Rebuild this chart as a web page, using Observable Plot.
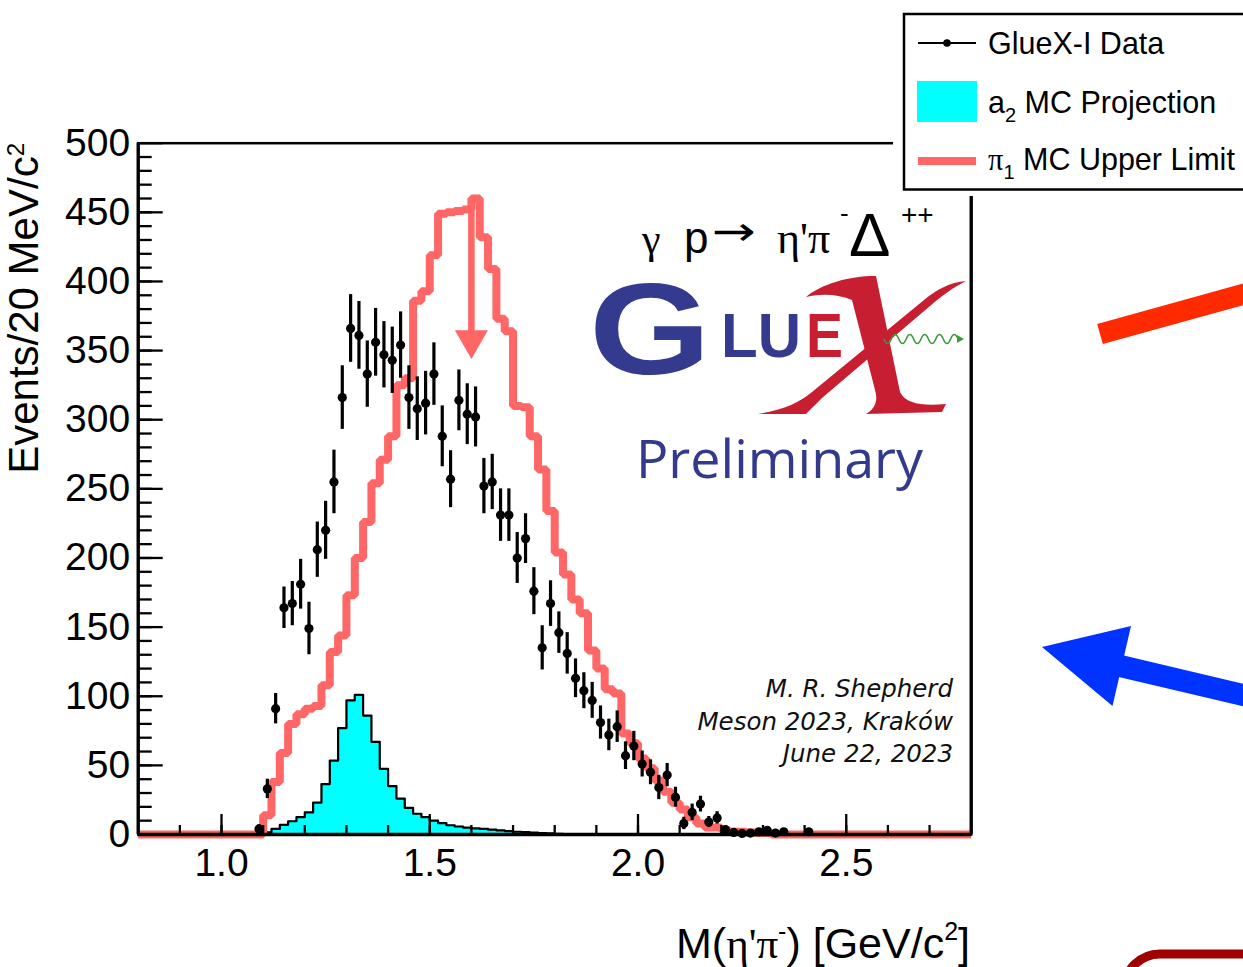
<!DOCTYPE html>
<html>
<head>
<meta charset="utf-8">
<script src="https://cdn.jsdelivr.net/npm/d3@7"></script>
<script src="https://cdn.jsdelivr.net/npm/@observablehq/plot@0.6"></script>
<style>
  html, body { margin: 0; padding: 0; background: #fff; }
  #chart { width: 1243px; height: 967px; overflow: hidden; }
</style>
</head>
<body>
<div id="chart"></div>
<script>
// M(η'π⁻) spectrum in 20 MeV/c² bins
const massRange = [0.8, 2.8];
const countRange = [0, 500];
const binWidth = 0.02;

// π1 MC upper limit histogram (counts per bin, first bin starts at pi1FirstEdge)
const pi1FirstEdge = 1.10;
const pi1Counts = [14, 38, 59, 80, 87, 91, 93, 108, 132, 144,
  173, 200, 226, 254, 271, 288, 325, 330, 386, 393,
  419, 449, 450, 451, 452, 460, 432, 409, 373, 364,
  310, 309, 288, 264, 234, 204, 188, 170, 160, 133,
  120, 105, 102, 73, 66, 55, 48, 39, 31, 23,
  18, 12.5, 8, 5, 5, 3, 2, 2, 1.5, 1, 1];

// a2 MC projection histogram
const a2FirstEdge = 1.10;
const a2Counts = [1.5, 4, 7, 9.6, 12.5, 16, 23, 36.5, 53.5, 77,
  97, 101, 86, 67, 47.5, 35, 26, 19.3, 15, 12.5,
  10, 8.2, 6.7, 5.8, 5, 4.4, 4, 3.5, 3, 2.5,
  2, 1.7, 1.4, 1.1, 0.8, 0.5];

// GlueX-I data points (bin centres, counts, uncertainties)
const dataMass = [1.09, 1.11, 1.13, 1.15, 1.17, 1.19, 1.21, 1.23, 1.25, 1.27,
  1.29, 1.31, 1.33, 1.35, 1.37, 1.39, 1.41, 1.43, 1.45, 1.47,
  1.49, 1.51, 1.53, 1.55, 1.57, 1.59, 1.61, 1.63, 1.65, 1.67,
  1.69, 1.71, 1.73, 1.75, 1.77, 1.79, 1.81, 1.83, 1.85, 1.87,
  1.89, 1.91, 1.93, 1.95, 1.97, 1.99, 2.01, 2.03, 2.05, 2.07,
  2.09, 2.11, 2.13, 2.15, 2.17, 2.19, 2.21, 2.23, 2.25, 2.27,
  2.29, 2.31, 2.33, 2.35, 2.41];
const dataCounts = [4, 33, 91, 164, 167, 181, 149, 206, 220, 255,
  316, 366, 361, 333, 356, 347, 343, 354, 316, 308,
  312, 333, 288, 257, 314, 304, 302, 252, 255, 231,
  231, 200, 214, 176, 135, 167, 146, 131, 113, 104,
  97, 81, 72, 78, 57, 64, 51, 45, 34, 43,
  27, 8, 16, 22, 9, 12, 3.5, 1.5, 0.8, 1,
  2, 3, 1, 2, 2];
const dataErrors = [3, 7, 11, 15, 16, 18, 19, 20, 21, 23,
  23, 24.5, 24.5, 24, 24.5, 24, 24, 24, 23, 23,
  23, 22.6, 22, 20.6, 22, 22, 21.7, 20, 20, 19,
  19, 18.4, 18, 17, 16, 16.5, 15, 15, 14, 13,
  13, 12, 11.4, 11.4, 10, 10.6, 9.4, 9, 8.8, 8.4,
  7.2, 4.5, 6, 5.7, 4, 4.5, 2.5, 1.2, 1, 1,
  1.5, 2, 1, 1.5, 1.5];

// Upper-limit arrow on the π1 peak
const upperLimitArrow = {mass: 1.60, from: 455, to: 344};

// Axis ticks
const yTickLabels = [0, 50, 100, 150, 200, 250, 300, 350, 400, 450, 500];
const xTickLabels = [1.0, 1.5, 2.0, 2.5];
const yMinorTicks = d3.range(10, 500, 10);
const xMinorTicks = d3.range(9, 28).map(d => d / 10);

const PINK = "#ff6666";
const CYAN = "#00ffff";
const SANS = "'Liberation Sans', Arial, Helvetica, sans-serif";
const SERIF = "'Liberation Serif', 'Times New Roman', serif";

function histogramTable(firstEdge, counts) {
  const n = Math.round((massRange[1] - massRange[0]) / binWidth);
  const rows = [];
  for (let i = 0; i <= n; i++) {
    const edge = +(massRange[0] + i * binWidth).toFixed(2);
    const k = Math.round((edge - firstEdge) / binWidth);
    const count = (i < n && k >= 0 && k < counts.length) ? counts[k] : 0;
    rows.push({edge, count});
  }
  return rows;
}

const pi1Table = histogramTable(pi1FirstEdge, pi1Counts);
const a2Table = histogramTable(a2FirstEdge, a2Counts);
const dataTable = dataMass.map((m, i) => ({mass: m, count: dataCounts[i], err: dataErrors[i]}));

const chart = Plot.plot({
  width: 1243,
  height: 967,
  marginLeft: 137.7,
  marginRight: 272.3,
  marginTop: 142.7,
  marginBottom: 133,
  style: {fontFamily: SANS, background: "white", color: "black"},
  x: {domain: massRange},
  y: {domain: countRange},
  marks: [
    Plot.areaY(a2Table, {x: "edge", y: "count", curve: "step-after", fill: CYAN}),
    Plot.lineY(a2Table, {x: "edge", y: "count", curve: "step-after", stroke: "black", strokeWidth: 2.2}),
    Plot.lineY(pi1Table, {x: "edge", y: "count", curve: "step-after", stroke: PINK, strokeWidth: 8, strokeLinejoin: "miter", strokeLinecap: "butt"}),
    Plot.ruleX([upperLimitArrow], {x: "mass", y1: "from", y2: "to", stroke: PINK, strokeWidth: 6.5, insetBottom: 26}),
    Plot.dot([upperLimitArrow], {x: "mass", y: "to", symbol: "triangle", r: 12.3, rotate: 180, dy: -19, fill: PINK, stroke: "none"}),
    Plot.ruleX(dataTable, {x: "mass", y1: d => Math.max(0, d.count - d.err), y2: d => d.count + d.err, stroke: "black", strokeWidth: 3.2}),
    Plot.dot(dataTable, {x: "mass", y: "count", r: 4.6, fill: "black", stroke: "none"}),
    Plot.frame({stroke: "black", strokeWidth: 2.5}),
    Plot.ruleX(massRange, {stroke: "black", strokeWidth: 3.3}),
    Plot.ruleY([0], {stroke: "black", strokeWidth: 3.3}),
    Plot.axisY({ticks: yMinorTicks, tickSize: -14, fill: "none", strokeWidth: 2.3}),
    Plot.axisY({ticks: yTickLabels, tickSize: -25, fill: "none", strokeWidth: 2.3}),
    Plot.axisY({ticks: yTickLabels, tickSize: 0, tickPadding: 8, fontSize: 39, label: null}),
    Plot.axisX({ticks: xMinorTicks, tickSize: -9, fill: "none", strokeWidth: 2.3}),
    Plot.axisX({ticks: xTickLabels, tickSize: -20, fill: "none", strokeWidth: 2.3}),
    Plot.axisX({ticks: xTickLabels, tickSize: 0, tickPadding: 14, fontSize: 39, tickFormat: d3.format(".1f"), label: null})
  ]
});

document.getElementById("chart").appendChild(chart);

const svg = d3.select(chart);
const deco = svg.append("g").attr("text-anchor", "start");

// Axis titles
const yTitle = deco.append("text")
  .attr("transform", "translate(38,143) rotate(-90)")
  .attr("text-anchor", "end").attr("font-family", SANS).attr("font-size", 42).attr("fill", "black");
yTitle.append("tspan").text("Events/20 MeV/c");
yTitle.append("tspan").attr("font-size", 24).attr("dy", -14).text("2");

const xTitle = deco.append("text")
  .attr("x", 970).attr("y", 958)
  .attr("text-anchor", "end").attr("font-family", SANS).attr("font-size", 43).attr("fill", "black");
xTitle.append("tspan").text("M(");
xTitle.append("tspan").attr("font-family", SERIF).text("η'π");
xTitle.append("tspan").attr("font-size", 25).attr("dy", -18).text("-");
xTitle.append("tspan").attr("dy", 18).text(") [GeV/c");
xTitle.append("tspan").attr("font-size", 25).attr("dy", -18).text("2");
xTitle.append("tspan").attr("dy", 18).text("]");

// Reaction label
const reaction = deco.append("g").attr("fill", "black").attr("text-anchor", "start");
reaction.append("text").attr("x", 642).attr("y", 253).attr("font-family", SERIF).attr("font-size", 42).text("γ");
reaction.append("text").attr("x", 684).attr("y", 253).attr("font-family", SANS).attr("font-size", 44).text("p");
reaction.append("text").attr("x", 712).attr("y", 245).attr("font-family", "'DejaVu Sans', sans-serif").attr("font-size", 40)
  .attr("textLength", 44).attr("lengthAdjust", "spacingAndGlyphs").text("→");
reaction.append("text").attr("x", 777).attr("y", 253).attr("font-family", SERIF).attr("font-size", 44).text("η'π");
reaction.append("text").attr("x", 840).attr("y", 222).attr("font-family", SANS).attr("font-size", 26).text("-");
reaction.append("text").attr("x", 849).attr("y", 256).attr("font-family", SANS).attr("font-size", 62).text("Δ");
reaction.append("text").attr("x", 901).attr("y", 224).attr("font-family", SANS).attr("font-size", 28).text("++");

// GlueX logo
const logo = deco.append("g").attr("text-anchor", "start");
logo.append("text").attr("x", 589).attr("y", 374).attr("font-family", SANS).attr("font-weight", "bold")
  .attr("font-size", 130).attr("textLength", 122).attr("lengthAdjust", "spacingAndGlyphs").attr("fill", "#343a8e").text("G");
logo.append("text").attr("x", 721).attr("y", 357).attr("font-family", SANS).attr("font-weight", "bold")
  .attr("font-size", 63).attr("textLength", 80).attr("lengthAdjust", "spacingAndGlyphs").attr("fill", "#343a8e").text("LU");
logo.append("text").attr("x", 806).attr("y", 357).attr("font-family", SANS).attr("font-weight", "bold")
  .attr("font-size", 63).attr("textLength", 37).attr("lengthAdjust", "spacingAndGlyphs").attr("fill", "#c81e32").text("E");
// calligraphic X
logo.append("path").attr("fill", "#c81e32").attr("d",
  "M806 297 C822 284 848 276 876 276 L900 392 C906 404 922 406 946 404 L942 412 L866 414 " +
  "C876 408 878 400 875 390 L852 300 C840 295 824 293 806 297 Z");
logo.append("path").attr("fill", "#c81e32").attr("d",
  "M966 281 C950 282 936 290 924 300 L812 392 C800 402 784 410 758 414 L806 414 " +
  "C812 408 816 404 822 398 L930 306 C942 296 952 288 966 281 Z");
// wavy gluon line
{
  const x0 = 884, x1 = 958, yc = 339, amp = 4.5, halves = 10;
  const step = (x1 - x0) / halves;
  let d = `M${x0} ${yc}`;
  for (let i = 0; i < halves; i++) {
    const xa = x0 + i * step;
    d += ` Q${xa + step / 2} ${yc + (i % 2 ? -2 * amp : 2 * amp)} ${xa + step} ${yc}`;
  }
  logo.append("path").attr("d", d).attr("fill", "none").attr("stroke", "#3c9a3c").attr("stroke-width", 1.6);
  logo.append("path").attr("d", `M${x1 - 1} ${yc - 4} L${x1 + 6} ${yc} L${x1 - 1} ${yc + 4} Z`).attr("fill", "#3c9a3c");
}
logo.append("text").attr("x", 636).attr("y", 478).attr("font-family", "'Open Sans', sans-serif")
  .attr("font-size", 53).attr("textLength", 287).attr("lengthAdjust", "spacingAndGlyphs")
  .attr("fill", "#333a8c").text("Preliminary");

// Talk credit
const credit = deco.append("g").attr("font-family", "'DejaVu Sans', sans-serif").attr("font-style", "italic")
  .attr("font-size", 24.5).attr("text-anchor", "end").attr("fill", "#111");
[["M. R. Shepherd", 697], ["Meson 2023, Kraków", 730], ["June 22, 2023", 762]].forEach(([t, y]) => {
  credit.append("text").attr("x", 953).attr("y", y).text(t);
});

// Legend
const legend = deco.append("g").attr("font-family", SANS).attr("font-size", 30.5).attr("fill", "black")
  .attr("text-anchor", "start");
legend.append("rect").attr("x", 893).attr("y", 0).attr("width", 360).attr("height", 196).attr("fill", "white");
legend.append("rect").attr("x", 904).attr("y", 14).attr("width", 350).attr("height", 175.5)
  .attr("fill", "white").attr("stroke", "black").attr("stroke-width", 2.5);
legend.append("line").attr("x1", 918).attr("x2", 976).attr("y1", 43).attr("y2", 43).attr("stroke", "black").attr("stroke-width", 2);
legend.append("circle").attr("cx", 947).attr("cy", 43).attr("r", 3.8).attr("fill", "black");
legend.append("text").attr("x", 988).attr("y", 54).text("GlueX-I Data");
legend.append("rect").attr("x", 917).attr("y", 81).attr("width", 60).attr("height", 41).attr("fill", CYAN);
const l2 = legend.append("text").attr("x", 988).attr("y", 112.5);
l2.append("tspan").text("a");
l2.append("tspan").attr("font-size", 20).attr("dy", 9).text("2");
l2.append("tspan").attr("dy", -9).text(" MC Projection");
legend.append("line").attr("x1", 918).attr("x2", 976).attr("y1", 161).attr("y2", 161).attr("stroke", PINK).attr("stroke-width", 8);
const l3 = legend.append("text").attr("x", 988).attr("y", 169.5);
l3.append("tspan").attr("font-family", SERIF).text("π");
l3.append("tspan").attr("font-size", 20).attr("dy", 9).text("1");
l3.append("tspan").attr("dy", -9).text(" MC Upper Limit");

// Slide annotations around the figure
deco.append("line").attr("x1", 1100).attr("y1", 334).attr("x2", 1262).attr("y2", 289)
  .attr("stroke", "#ff2a00").attr("stroke-width", 21);
deco.append("line").attr("x1", 1116).attr("y1", 665).attr("x2", 1285).attr("y2", 705)
  .attr("stroke", "#0033ff").attr("stroke-width", 22);
deco.append("path").attr("d", "M1042 647 L1131 626 L1112.5 706 Z").attr("fill", "#0033ff");
deco.append("rect").attr("x", 1124).attr("y", 954).attr("width", 200).attr("height", 80).attr("rx", 36)
  .attr("fill", "none").attr("stroke", "#a00000").attr("stroke-width", 9);
</script>
</body>
</html>
